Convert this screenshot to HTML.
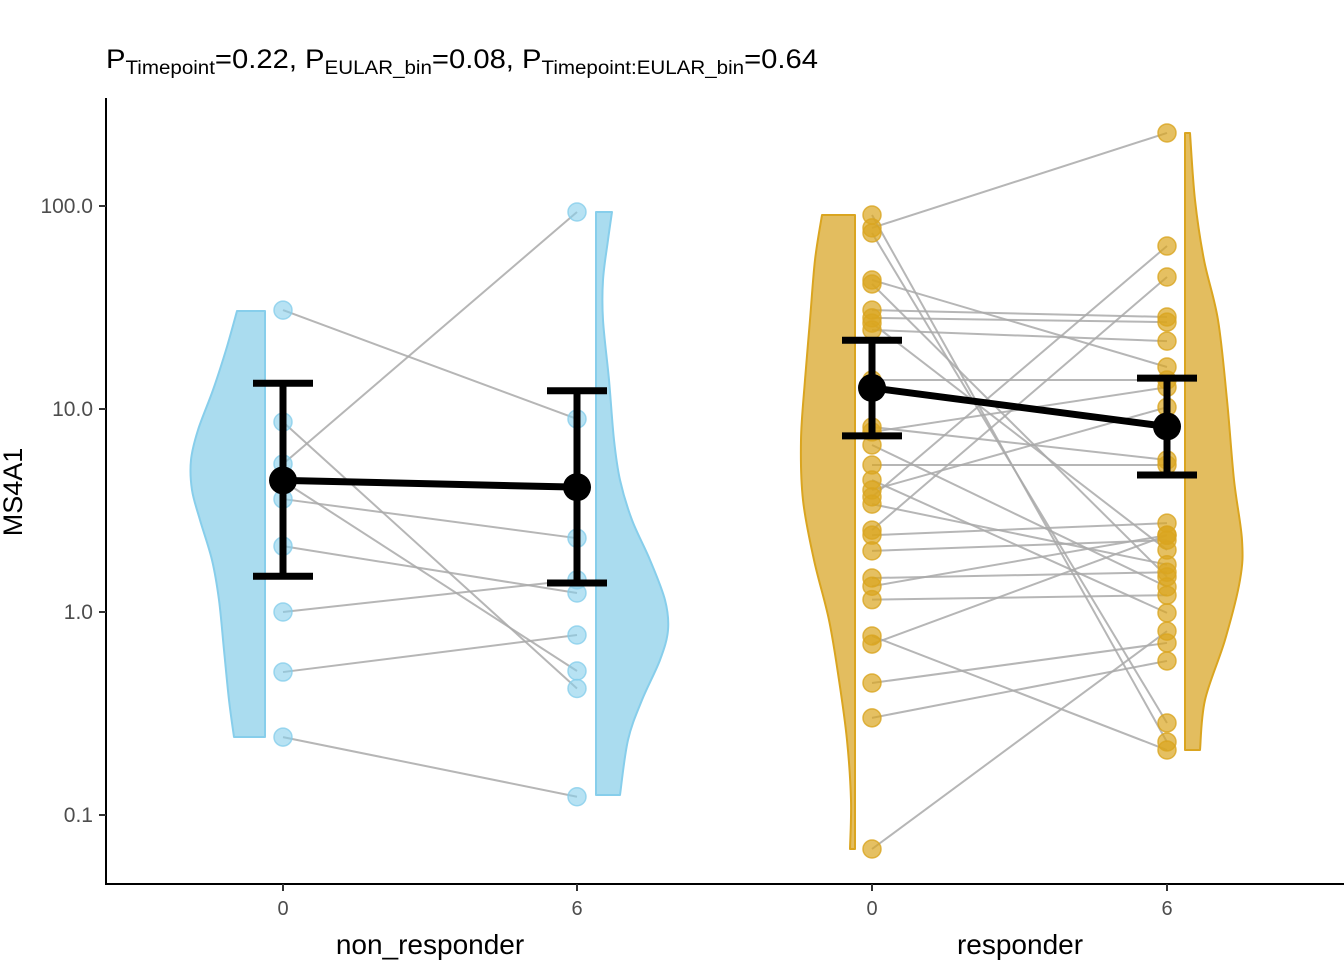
<!DOCTYPE html>
<html><head><meta charset="utf-8"><style>
html,body{margin:0;padding:0;background:#fff;}
svg{display:block;font-family:"Liberation Sans",sans-serif;}
</style></head><body>
<svg id="chart" width="1344" height="960" viewBox="0 0 1344 960" xmlns="http://www.w3.org/2000/svg">
<text x="106" y="68" font-size="27" fill="#000" textLength="712" lengthAdjust="spacingAndGlyphs">P<tspan font-size="19" dy="6">Timepoint</tspan><tspan dy="-6">=0.22, P</tspan><tspan font-size="19" dy="6">EULAR_bin</tspan><tspan dy="-6">=0.08, P</tspan><tspan font-size="19" dy="6">Timepoint:EULAR_bin</tspan><tspan dy="-6">=0.64</tspan></text>
<g id="violins"></g>
<g id="lines"></g>
<g id="points"></g>
<g id="summary"></g>
<g id="axes"></g>
<text transform="translate(22,492) rotate(-90)" text-anchor="middle" font-size="27" fill="#000">MS4A1</text>
<text x="430" y="954" text-anchor="middle" font-size="28" fill="#000">non_responder</text>
<text x="1020" y="954" text-anchor="middle" font-size="28" fill="#000">responder</text>
</svg>
<script>
// data
const yTicks = [0.1, 1.0, 10.0, 100.0];
const yTickLabels = ["0.1", "1.0", "10.0", "100.0"];
const xCategories = ["0", "6", "0", "6"];
const nrT0 = [30.7, 8.63, 5.36, 4.42, 3.6, 2.11, 1.0, 0.506, 0.242];
const nrT6 = [8.93, 0.42, 93.4, 0.512, 2.31, 1.24, 1.44, 0.77, 0.123];
const rT0 = [90.3, 78.0, 73.6, 43.2, 41.3, 30.7, 28.1, 26.5, 24.5, 13.9, 8.15, 7.71, 6.65, 5.30, 4.47, 3.99, 3.69, 3.40, 2.53, 2.39, 2.00, 1.47, 1.34, 1.15, 0.762, 0.695, 0.447, 0.301, 0.068];
const rT6 = [0.229, 229, 0.284, 16.1, 1.49, 28.4, 26.8, 2.02, 21.6, 13.9, 5.61, 12.8, 1.33, 5.30, 0.99, 10.2, 63.5, 1.71, 44.7, 2.74, 2.26, 1.57, 2.39, 1.21, 0.209, 2.39, 0.704, 0.574, 0.805];
const meanVals = [4.45, 4.12, 12.7, 8.2];
const errLow = [1.50, 1.39, 7.37, 4.73];
const errHigh = [13.4, 12.3, 21.8, 14.2];

const NS = "http://www.w3.org/2000/svg";
const X = [283, 577, 872, 1167];
function yS(v){ return 612 - 203*Math.log10(v); }
function mk(parent, tag, attrs){ const e=document.createElementNS(NS,tag); for(const k in attrs) e.setAttribute(k,attrs[k]); document.getElementById(parent).appendChild(e); return e; }

function violin(name, xEdge, pts, fill, stroke){
  const P = pts.map(p=>[p[1],p[0]]);
  let d = "M"+xEdge+","+P[0][1]+" L"+P[0][0]+","+P[0][1];
  for(let i=0;i<P.length-1;i++){
    const p0=P[Math.max(0,i-1)], p1=P[i], p2=P[i+1], p3=P[Math.min(P.length-1,i+2)];
    const c1=[p1[0]+(p2[0]-p0[0])/6, p1[1]+(p2[1]-p0[1])/6];
    const c2=[p2[0]-(p3[0]-p1[0])/6, p2[1]-(p3[1]-p1[1])/6];
    d += " C"+c1[0]+","+c1[1]+" "+c2[0]+","+c2[1]+" "+p2[0]+","+p2[1];
  }
  d += " L"+xEdge+","+P[P.length-1][1]+" Z";
  const e = mk("violins","path",{d:d,fill:fill,stroke:stroke,"stroke-width":2,"stroke-linejoin":"round"});
  
  
}
violin("violin-non-responder-0", 265, [[311,237],[350,226],[390,213],[430,198],[460,191],[490,192],[520,200],[560,212],[600,219],[650,224],[700,229],[737,234]], "#aadcef", "#87ceeb");
violin("violin-non-responder-6", 596, [[212,612],[240,608],[280,603],[320,603],[380,609],[440,614],[480,620],[520,632],[560,650],[600,665],[630,668],[660,660],[700,642],[740,628],[795,620]], "#aadcef", "#87ceeb");
violin("violin-responder-0", 855, [[215,822],[260,815],[320,810],[380,805],[440,801],[500,803],[560,814],[620,829],[680,839],[740,847],[800,851],[849,850]], "#e3bd5f", "#daa520");
violin("violin-responder-6", 1185, [[133,1190],[200,1195],[260,1204],[320,1218],[400,1227],[480,1234],[540,1242],[580,1240],[640,1225],[700,1205],[750,1200]], "#e3bd5f", "#daa520");

function pairs(a,b,x0,x1,label){
  for(let i=0;i<a.length;i++){
    const l = mk("lines","line",{x1:x0,y1:yS(a[i]),x2:x1,y2:yS(b[i]),stroke:"#a9a9a9","stroke-width":2,"stroke-opacity":0.85});
    
    
  }
}
pairs(nrT0,nrT6,X[0],X[1],"non-responder");
pairs(rT0,rT6,X[2],X[3],"responder");

function pts(arr,x,col,stroke,label){
  arr.forEach(v=>{
    const c = mk("points","circle",{cx:x,cy:yS(v),r:9,fill:col,stroke:stroke,"stroke-width":1.5});
    
    
  });
}
pts(nrT0,X[0],"rgba(135,206,235,0.6)","rgba(135,206,235,0.8)","non-responder-0");
pts(nrT6,X[1],"rgba(135,206,235,0.6)","rgba(135,206,235,0.8)","non-responder-6");
pts(rT0,X[2],"rgba(218,165,32,0.7)","rgba(218,165,32,0.8)","responder-0");
pts(rT6,X[3],"rgba(218,165,32,0.7)","rgba(218,165,32,0.8)","responder-6");

for(let g=0; g<2; g++){
  const i=g*2, j=g*2+1;
  const ml = mk("summary","line",{x1:X[i],y1:yS(meanVals[i]),x2:X[j],y2:yS(meanVals[j]),stroke:"#000","stroke-width":7});
  
  
}
for(let i=0;i<4;i++){
  const v = mk("summary","line",{x1:X[i],y1:yS(errHigh[i]),x2:X[i],y2:yS(errLow[i]),stroke:"#000","stroke-width":7});
  
  
  [errHigh[i],errLow[i]].forEach(e=>{
    const c = mk("summary","line",{x1:X[i]-30,y1:yS(e),x2:X[i]+30,y2:yS(e),stroke:"#000","stroke-width":7});
    
    
  });
  const m = mk("summary","circle",{cx:X[i],cy:yS(meanVals[i]),r:14,fill:"#000"});
  
  
}

const ya = mk("axes","line",{x1:106,y1:98,x2:106,y2:885,stroke:"#000","stroke-width":2});


const xa = mk("axes","line",{x1:105,y1:884,x2:1344,y2:884,stroke:"#000","stroke-width":2});


yTicks.forEach((t,k)=>{
  const y=yS(t);
  const tk = mk("axes","line",{x1:99,y1:y,x2:106,y2:y,stroke:"#333","stroke-width":2});
  
  
  const tx = mk("axes","text",{x:93,y:y+7,"text-anchor":"end","font-size":"21",fill:"#4d4d4d"});
  tx.textContent = yTickLabels[k];
  
  
});
xCategories.forEach((c,k)=>{
  const tk = mk("axes","line",{x1:X[k],y1:884,x2:X[k],y2:891,stroke:"#333","stroke-width":2});
  
  
  const tx = mk("axes","text",{x:X[k],y:915,"text-anchor":"middle","font-size":"20",fill:"#4d4d4d"});
  tx.textContent = c;
  
  
});
</script>
</body></html>
